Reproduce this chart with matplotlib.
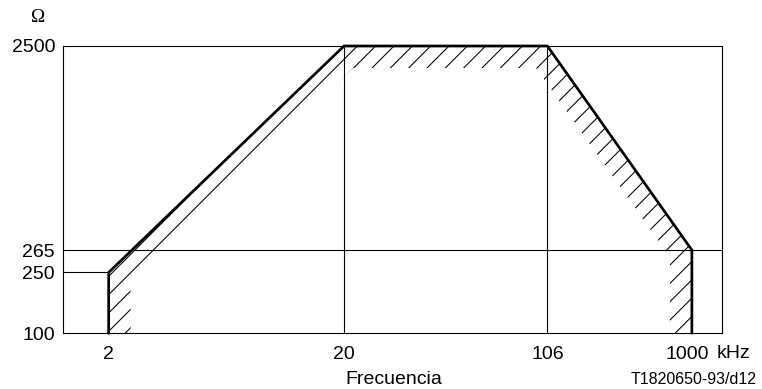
import numpy as np
import matplotlib
matplotlib.use("Agg")
import matplotlib.pyplot as plt
from matplotlib.patches import Polygon
from matplotlib.transforms import ScaledTranslation

# Impedance template versus frequency
freq_khz = [2, 2, 20, 106, 1000, 1000]
impedance_ohm = [100, 250, 2500, 2500, 265, 100]

x_ticks = [2, 20, 106, 1000]
x_tick_labels = ["2", "20", "106", "1000"]
y_ticks = [100, 250, 265, 2500]
y_tick_labels = ["100", "250", "265", "2500"]

# Schematic (non-proportional) axis layout: where each tick sits on its axis
x_tick_pos = [0.0, 1.0, 1.864, 2.478]
x_span = (-0.194, 2.606)
y_tick_pos = [0.0, 0.211, 0.289, 1.0]

DPI = 110
W, H = 762, 389
SANS = ["Liberation Sans", "DejaVu Sans"]
SERIF = ["Liberation Serif", "DejaVu Serif"]


def piecewise(vals, src, dst):
    v = np.asarray(vals, dtype=float)
    src = np.asarray(src, dtype=float)
    dst = np.asarray(dst, dtype=float)
    out = np.interp(v, src, dst)
    lo = (dst[1] - dst[0]) / (src[1] - src[0])
    hi = (dst[-1] - dst[-2]) / (src[-1] - src[-2])
    out = np.where(v < src[0], dst[0] + (v - src[0]) * lo, out)
    out = np.where(v > src[-1], dst[-1] + (v - src[-1]) * hi, out)
    return out


lx = np.log10(x_ticks)
ly = np.log10(y_ticks)


def fx(f):
    return piecewise(np.log10(np.clip(np.asarray(f, float), 1e-12, None)), lx, x_tick_pos)


def fx_inv(p):
    return 10 ** piecewise(p, x_tick_pos, lx)


def fy(v):
    return piecewise(np.log10(np.clip(np.asarray(v, float), 1e-12, None)), ly, y_tick_pos)


def fy_inv(p):
    return 10 ** piecewise(p, y_tick_pos, ly)


def pt(px):
    return px * 72.0 / DPI


plt.rcParams["font.family"] = SANS
plt.rcParams["hatch.linewidth"] = 0.7

fig = plt.figure(figsize=(W / DPI, H / DPI), dpi=DPI)
ax = fig.add_axes([63 / W, 1 - 333 / H, (722 - 63) / W, (333 - 46) / H])

ax.set_xscale("function", functions=(fx, fx_inv))
ax.set_yscale("function", functions=(fy, fy_inv))
xmin, xmax = float(fx_inv(x_span[0])), float(fx_inv(x_span[1]))
ax.set_xlim(xmin, xmax)
ax.set_ylim(y_ticks[0], y_ticks[-1])

ax.set_xticks(x_ticks, labels=x_tick_labels)
ax.set_yticks(y_ticks, labels=y_tick_labels)
ax.minorticks_off()
ax.tick_params(axis="x", length=0, pad=pt(13), labelsize=pt(19.5))
ax.tick_params(axis="y", length=0, pad=pt(8), labelsize=pt(19.5))
for lbl in ax.get_xticklabels() + ax.get_yticklabels():
    lbl.set_family(SANS)
# last frequency label sits a little left so it clears the unit
last = ax.get_xticklabels()[-1]
last.set_transform(last.get_transform() + ScaledTranslation(-5 / DPI, 0, fig.dpi_scale_trans))

for s in ax.spines.values():
    s.set_linewidth(pt(1.1))
    s.set_color("black")

# reference grid
thin = dict(color="black", lw=pt(1.1), zorder=1)
ax.axvline(20, **thin)
ax.axvline(106, **thin)
ax.axhline(265, **thin)
ax.hlines(250, xmin, 2, **thin)

# hatched band just inside the template boundary
pts = ax.transData.transform(np.column_stack([freq_khz, impedance_ohm]))
band = 22.0
normals = []
for a, b in zip(pts[:-1], pts[1:]):
    d = b - a
    d = d / np.hypot(*d)
    normals.append(np.array([d[1], -d[0]]))
inner = [pts[0] + band * normals[0]]
for i in range(1, len(pts) - 1):
    p1 = pts[i - 1] + band * normals[i - 1]
    d1 = pts[i] - pts[i - 1]
    p2 = pts[i] + band * normals[i]
    d2 = pts[i + 1] - pts[i]
    A = np.array([d1, -d2]).T
    t = np.linalg.solve(A, p2 - p1)
    inner.append(p1 + t[0] * d1)
inner.append(pts[-1] + band * normals[-1])
ring = np.vstack([pts, np.array(inner)[::-1]])
ring_data = ax.transData.inverted().transform(ring)
ax.add_patch(Polygon(ring_data, closed=True, fill=False, hatch="//",
                     edgecolor="black", linewidth=0, zorder=2))

ax.plot(freq_khz, impedance_ohm, color="black", lw=pt(2.7),
        solid_joinstyle="miter", clip_on=False, zorder=3)

fig.text(38 / W, 1 - 18 / H, "Ω", ha="center", va="center",
         family=SERIF, fontsize=pt(19))
fig.text(717 / W, 1 - 353 / H, "kHz", ha="left", va="center", fontsize=pt(19.5))
fig.text(394 / W, 1 - 380 / H, "Frecuencia", ha="center", va="center",
         fontsize=pt(19.5))
fig.text(757 / W, 1 - 379 / H, "T1820650-93/d12", ha="right", va="center",
         fontsize=pt(16))

fig.savefig("out.png", dpi=DPI, facecolor="white")
